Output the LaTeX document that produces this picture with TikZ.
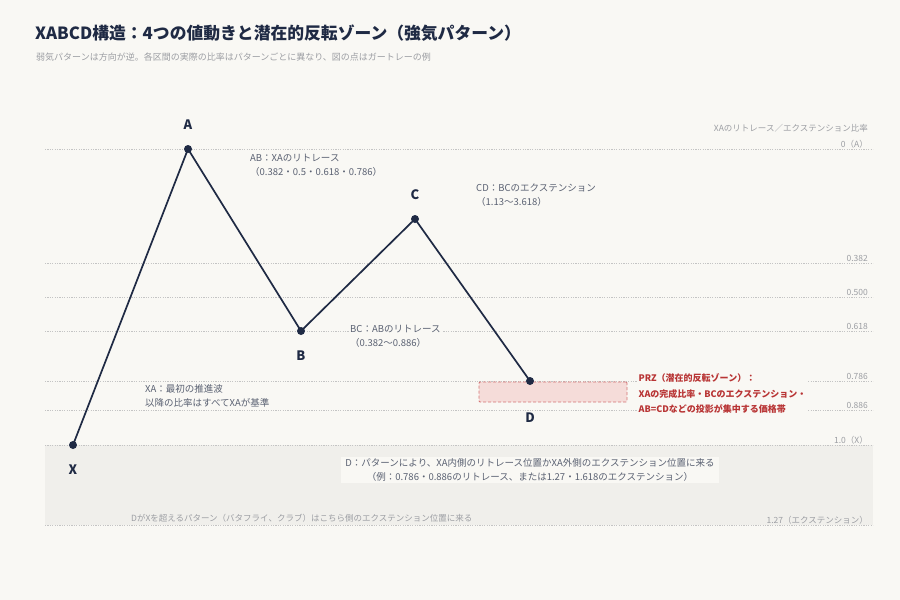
\documentclass[tikz,border=0pt]{standalone}
\usepackage{fontspec}
\setmainfont{Noto Sans CJK JP}
\definecolor{bgc}{HTML}{F9F8F4}
\definecolor{shadec}{HTML}{F0EFEB}
\definecolor{navy}{HTML}{1F2A44}
\definecolor{notec}{HTML}{5A6172}
\definecolor{lightc}{HTML}{9C9EA3}
\definecolor{gridc}{HTML}{C4C4C4}
\definecolor{przred}{HTML}{B83434}
\definecolor{przfill}{HTML}{F5DCD9}
\definecolor{przedge}{HTML}{D57474}
\tikzset{
  gridline/.style={gridc, line width=0.7pt, dash pattern=on 1.2pt off 1.2pt},
  ratiolabel/.style={anchor=base east, text=lightc, inner sep=0pt, font=\fontsize{8.5}{10}\selectfont},
  pt/.style={circle, fill=navy, inner sep=0pt, minimum size=8pt},
  plabel/.style={text=navy, font=\fontsize{13}{15}\selectfont\bfseries, inner sep=0pt},
  wave/.style={navy, line width=1.7pt, line join=round},
  note/.style={anchor=north west, align=left, text=notec, fill=bgc, inner sep=1pt, font=\fontsize{9.5}{14}\selectfont},
  przbox/.style={draw=przedge, fill=przfill, dash pattern=on 3pt off 2pt, line width=0.9pt, minimum width=148pt, minimum height=20pt, inner sep=0pt, rounded corners=1pt},
  przlabel/.style={anchor=north west, align=left, text=przred, fill=bgc, inner sep=1.5pt, font=\fontsize{9}{15.5}\selectfont\bfseries},
}
\begin{document}
\begin{tikzpicture}[x=1pt,y=-1pt]
\useasboundingbox (0,0) rectangle (900,600);
\fill[bgc] (0,0) rectangle (900,600);
% title
\node[anchor=base west, inner sep=0pt, text=navy, font=\fontsize{16.8}{20}\selectfont\bfseries] (title) at (35,39.5) {XABCD構造：4つの値動きと潜在的反転ゾーン（強気パターン）};
\node[anchor=base west, inner sep=0pt, text=lightc, font=\fontsize{9}{11}\selectfont] (subtitle) at (36,60) {弱気パターンは方向が逆。各区間の実際の比率はパターンごとに異なり、図の点はガートレーの例};
% extension zone
\fill[shadec] (45,445) rectangle (873,525);
% grid lines
\foreach \yy in {149,263,297,331,381,410,445,525} {
  \draw[gridline] (45,\yy) -- (873,\yy);
}
% ratio labels
\node[ratiolabel] (axistitle) at (868,131) {XAのリトレース／エクステンション比率};
\node[ratiolabel] (r0) at (868,147) {0（A）};
\node[ratiolabel] (r382) at (868,261.5) {0.382};
\node[ratiolabel] (r500) at (868,295.5) {0.500};
\node[ratiolabel] (r618) at (868,329.5) {0.618};
\node[ratiolabel] (r786) at (868,379.5) {0.786};
\node[ratiolabel] (r886) at (868,408.5) {0.886};
\node[ratiolabel] (r100) at (868,443.5) {1.0（X）};
\node[ratiolabel] (r127) at (868,523.5) {1.27（エクステンション）};
% notes
\node[note] (abnote) at (249,153) {AB：XAのリトレース\\（0.382・0.5・0.618・0.786）};
\node[note] (cdnote) at (475,182.5) {CD：BCのエクステンション\\（1.13〜3.618）};
\node[note] (bcnote) at (349,323.5) {BC：ABのリトレース\\（0.382〜0.886）};
\node[note] (xanote) at (144,383.5) {XA：最初の推進波\\以降の比率はすべてXAが基準};
\node[anchor=center, align=center, text=notec, fill=bgc, inner xsep=4pt, inner ysep=2pt, font=\fontsize{9.5}{14}\selectfont] (dnote) at (530,470) {D：パターンにより、XA内側のリトレース位置かXA外側のエクステンション位置に来る\\（例：0.786・0.886のリトレース、または1.27・1.618のエクステンション）};
\node[anchor=base west, inner sep=0pt, text=lightc, font=\fontsize{8.5}{10}\selectfont] (xnote) at (131,521.5) {DがXを超えるパターン（バタフライ、クラブ）はこちら側のエクステンション位置に来る};
% PRZ
\node[przbox] (prz) at (553,392) {};
\node[przlabel] (przlabel) at (637,372) {PRZ（潜在的反転ゾーン）：\\XAの完成比率・BCのエクステンション・\\AB=CDなどの投影が集中する価格帯};
% points
\coordinate (pX) at (73,445);
\coordinate (pA) at (188,149);
\coordinate (pB) at (301,331);
\coordinate (pC) at (415,219);
\coordinate (pD) at (530,381);
\draw[wave] (pX) -- (pA) -- (pB) -- (pC) -- (pD);
\node[pt] (X) at (pX) {};
\node[pt] (A) at (pA) {};
\node[pt] (B) at (pB) {};
\node[pt] (C) at (pC) {};
\node[pt] (D) at (pD) {};
\node[plabel] (lX) at (73,470) {X};
\node[plabel] (lA) at (188,125) {A};
\node[plabel] (lB) at (301,356) {B};
\node[plabel] (lC) at (415,195) {C};
\node[plabel] (lD) at (530,418) {D};
\end{tikzpicture}
\end{document}
